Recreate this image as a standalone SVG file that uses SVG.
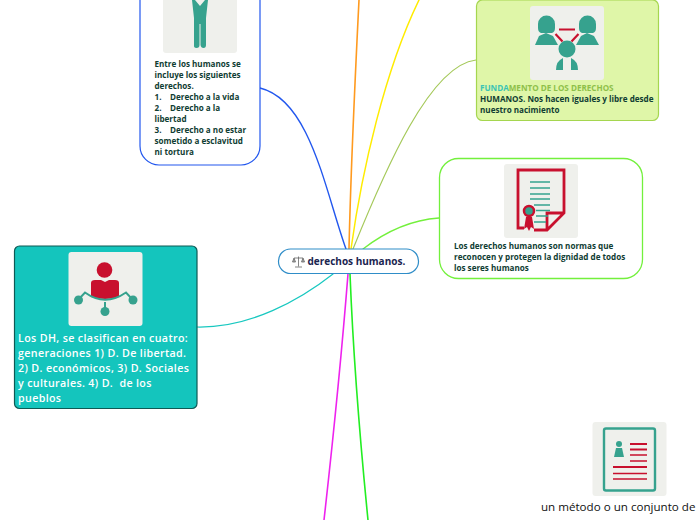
<svg xmlns="http://www.w3.org/2000/svg" width="696" height="520" viewBox="0 0 696 520">
<style>
text{font-family:"Open Sans","Noto Sans",sans-serif;font-weight:700}
.s{font-size:8.1px;fill:#0f3d33}
.w{font-size:10.700px;fill:#fff;font-weight:600;letter-spacing:.35px}
.c{fill:none;stroke-linecap:round}
.tile{fill:#eff0ec}
.g{fill:#36a28e}
.r{fill:#c8102e}
.gl{stroke:#36a28e;fill:none}
.rl{stroke:#c8102e;fill:none}
</style>
<rect width="696" height="520" fill="#fff"/>
<g id="connectors">
<path class="c" d="M346 249C325 190 310 100 260 88" stroke="#2257ee" stroke-width="1.4"/>
<path class="c" d="M349 249C351 160 355 80 359 0" stroke="#ff9a1f" stroke-width="1.6"/>
<path class="c" d="M351 249C362 170 385 70 419 0" stroke="#ffec00" stroke-width="1.5"/>
<path class="c" d="M353 249C385 170 430 65 476 60" stroke="#a5c95a" stroke-width="1.2"/>
<path class="c" d="M363 249C385 232 410 220 439 218" stroke="#73f03c" stroke-width="1.3"/>
<path class="c" d="M333 274C300 300 250 328 197 327" stroke="#18c8c0" stroke-width="1.2"/>
<path class="c" d="M348 274C342 350 333 440 324 520" stroke="#ee22ee" stroke-width="1.6"/>
<path class="c" d="M350 274C353 350 360 440 368 520" stroke="#22ee22" stroke-width="1.6"/>
</g>
<g id="node-humanos">
<rect x="140" y="-30" width="120" height="195" rx="19" fill="#fff" stroke="#2257ee" stroke-width="1.2"/>
<rect class="tile" x="163" y="-21" width="74" height="74" rx="3"/>
<path class="g" d="M192 0h3l5 6 5-6h3l-2 18v27q0 3-2.500 3t-3-3V24h-1v21q0 3-3 3t-2.500-3V18z"/>
<text class="s" x="154.500" y="67">Entre los humanos se</text>
<text class="s" x="154.500" y="78">incluye los siguientes</text>
<text class="s" x="154.500" y="89">derechos.</text>
<text class="s" x="154.500" y="100">1.<tspan x="170">Derecho a la vida</tspan></text>
<text class="s" x="154.500" y="111">2.<tspan x="170">Derecho a la</tspan></text>
<text class="s" x="154.500" y="122">libertad</text>
<text class="s" x="154.500" y="133">3.<tspan x="170">Derecho a no estar</tspan></text>
<text class="s" x="154.500" y="144">sometido a esclavitud</text>
<text class="s" x="154.500" y="155">ni tortura</text>
</g>
<g id="node-fundamento">
<rect x="476.500" y="0" width="182" height="120.500" rx="6" fill="#dff6a8" stroke="#a5d64f" stroke-width="1.2"/>
<rect class="tile" x="530" y="6" width="74" height="74" rx="3"/>
<g class="g"><path d="M538 28v-4a8 8 0 0 1 17 0v4q0 4-3 5h-11q-3-1-3-5z"/><path d="M535 45l4-9 7-3 7 3 5 9z"/><path d="M579 28v-4a8 8 0 0 1 17 0v4q0 4-3 5h-11q-3-1-3-5z"/><path d="M576 45l5-9 6-3 7 3 5 9z"/><circle cx="567" cy="49" r="8.500"/><path d="M556 70q0-9 7-12v12zM571 58q7 3 7 12h-7z"/></g>
<path d="M559 29.500h16M555.500 34l7 7.500M578.500 34l-7 7.500" stroke="#c8102e" stroke-width="2.200" fill="none"/>
<text class="s" x="480" y="91"><tspan fill="#3cc4b4">FUNDA</tspan><tspan fill="#8ec04a">MENTO DE LOS DERECHOS</tspan></text>
<text class="s" x="480" y="102">HUMANOS. Nos hacen iguales y libre desde</text>
<text class="s" x="480" y="113">nuestro nacimiento</text>
</g>
<g id="node-normas">
<rect x="439.500" y="158.500" width="203" height="120" rx="19" fill="#fff" stroke="#73f03c" stroke-width="1.3"/>
<rect class="tile" x="504" y="164" width="74" height="74" rx="3"/>
<path class="rl" stroke-width="2.800" d="M524 228h-6v-58h46v43l-17 17h-13M547 230v-17h17"/>
<path class="gl" stroke-width="1.300" d="M530 182h20M530 188h20M530 194h20M530 199h20M534 205h16M536 210.500h14M536 216h12M534 222h12"/>
<circle cx="529" cy="211" r="5" fill="#36a28e" stroke="#c8102e" stroke-width="2.500"/>
<path class="r" d="M526 217h6l2 12-3-2-2 4-2-4-3 2z"/>
<text class="s" x="454" y="249">Los derechos humanos son normas que</text>
<text class="s" x="454" y="260">reconocen y protegen la dignidad de todos</text>
<text class="s" x="454" y="271">los seres humanos</text>
</g>
<g id="node-clasificacion">
<rect x="14.500" y="246" width="182.500" height="162.500" rx="5" fill="#14c5bd" stroke="#0e5a55" stroke-width="1.200"/>
<rect class="tile" x="68.500" y="252" width="74" height="74" rx="3"/>
<circle class="r" cx="104.500" cy="270" r="7.800"/>
<path class="r" d="M95 280h6l4 2 4-2h6q4 0 4 3v14q-14 4-28 0v-14q0-3 4-3z"/>
<path class="gl" stroke-width="2" d="M78 300l7-7.500Q105 307 126 292.500l7 7.500M105 302v9"/>
<circle class="g" cx="78.500" cy="300" r="4.500"/><circle class="g" cx="133" cy="300" r="4.500"/><circle class="g" cx="105" cy="311.500" r="4.500"/>
<text class="w" x="18" y="342">Los DH, se clasifican en cuatro:</text>
<text class="w" x="18" y="357">generaciones 1) D. De libertad.</text>
<text class="w" x="18" y="372">2) D. económicos, 3) D. Sociales</text>
<text class="w" x="18" y="387" xml:space="preserve">y culturales. 4) D.  de los</text>
<text class="w" x="18" y="402">pueblos</text>
</g>
<g id="node-central">
<rect x="278.500" y="249" width="140" height="24.500" rx="12" fill="#fff" stroke="#2f8dc8" stroke-width="1.200"/>
<path d="M298.500 256.500v10M295 267h7M294 258h9M294 258l-1.500 4h3zM303 258l-1.500 4h3z" fill="#aaa" stroke="#666" stroke-width=".8"/>
<text x="307.500" y="265" font-size="10" fill="#1a2550">derechos humanos.</text>
</g>
<g id="node-metodo">
<rect class="tile" x="592.500" y="422" width="74" height="74" rx="3"/>
<rect x="604" y="428.500" width="51" height="62" rx="2" fill="none" stroke="#36a28e" stroke-width="2.400"/>
<circle class="g" cx="619" cy="444" r="3"/>
<path class="g" d="M614 457l2-9h6l2 9z"/>
<path class="rl" stroke-width="1.800" d="M630 444h17M630 449.500h17M613 467h34"/>
<path class="rl" stroke-width="1.300" d="M630 455h17M630 461h17M613 473.500h34M613 479h34"/>
<text x="541" y="511" font-size="11.600" style="font-weight:400" fill="#111">un método o un conjunto de</text>
</g>
</svg>
